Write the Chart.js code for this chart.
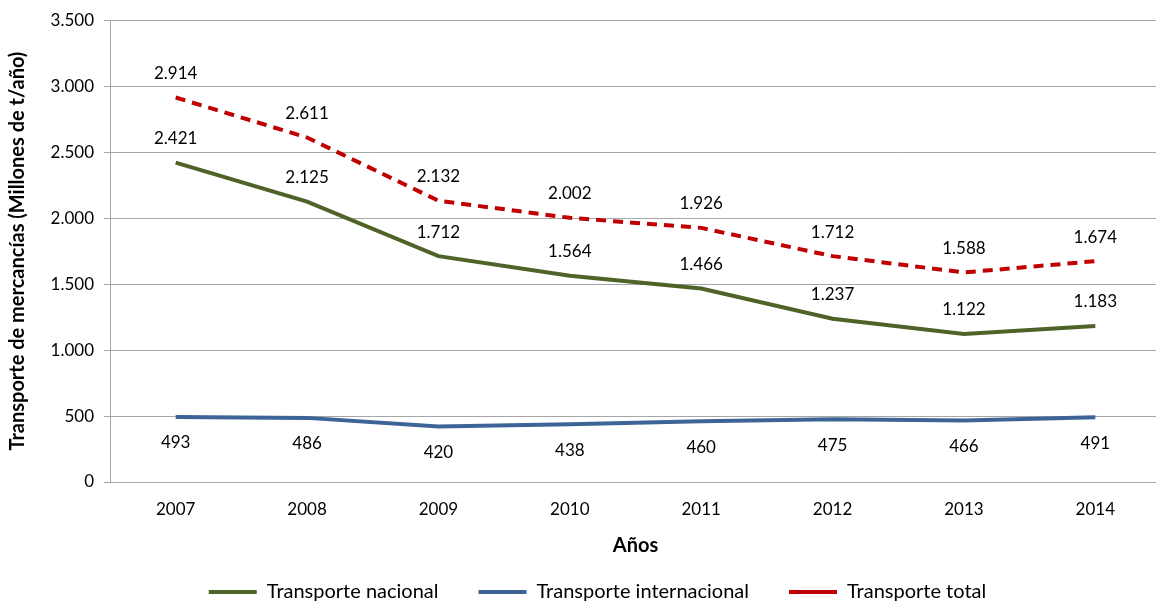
<!DOCTYPE html>
<html>
<head>
<meta charset="utf-8">
<script src="https://cdn.jsdelivr.net/npm/chart.js@4/dist/chart.umd.min.js"></script>
<style>
  html, body { margin: 0; padding: 0; background: #fff; overflow: hidden; }
  #wrap { width: 1161px; height: 612px; position: relative; }
</style>
</head>
<body>
<div id="wrap"><canvas id="chart"></canvas></div>
<script>
const years = ["2007", "2008", "2009", "2010", "2011", "2012", "2013", "2014"];
const nacional = [2421, 2125, 1712, 1564, 1466, 1237, 1122, 1183];
const internacional = [493, 486, 420, 438, 460, 475, 466, 491];
const total = [2914, 2611, 2132, 2002, 1926, 1712, 1588, 1674];

const fontFamily = "Lato, 'Open Sans', sans-serif";

function fmt(v) {
  return String(v).replace(/\B(?=(\d{3})+(?!\d))/g, ".");
}

// etiquetas de valor sobre/bajo cada punto
const pointLabels = {
  id: "pointLabels",
  afterDatasetsDraw(chart) {
    const ctx = chart.ctx;
    ctx.save();
    ctx.font = "17px " + fontFamily;
    ctx.fillStyle = "#000";
    ctx.textAlign = "center";
    ctx.textBaseline = "middle";
    chart.data.datasets.forEach((ds, i) => {
      const meta = chart.getDatasetMeta(i);
      meta.data.forEach((pt, j) => {
        ctx.fillText(fmt(ds.data[j]), pt.x, pt.y + ds.labelOffset);
      });
    });
    ctx.restore();
  }
};

const chartEl = document.getElementById("chart");

const chartInstance = new Chart(chartEl, {
  type: "line",
  data: {
    labels: years,
    datasets: [
      {
        label: "Transporte nacional",
        data: nacional,
        borderColor: "#4F6228",
        backgroundColor: "#4F6228",
        borderWidth: 4,
        pointRadius: 0,
        tension: 0,
        labelOffset: -24,
      },
      {
        label: "Transporte internacional",
        data: internacional,
        borderColor: "#3C6496",
        backgroundColor: "#3C6496",
        borderWidth: 4,
        pointRadius: 0,
        tension: 0,
        labelOffset: 26,
      },
      {
        label: "Transporte total",
        data: total,
        borderColor: "#C00000",
        backgroundColor: "#C00000",
        borderWidth: 4,
        borderDash: [10, 7],
        pointRadius: 0,
        tension: 0,
        labelOffset: -24,
      },
    ],
  },
  options: {
    responsive: true,
    maintainAspectRatio: false,
    animation: false,
    layout: { padding: { left: 34, top: 12, right: 0, bottom: 0 } },
    scales: {
      x: {
        offset: true,
        grid: { display: false, drawTicks: false, offset: true },
        border: { color: "#A6A6A6", width: 1 },
        ticks: {
          color: "#000",
          padding: 17,
          font: { family: fontFamily, size: 17 },
          maxRotation: 0,
        },
        title: {
          display: true,
          text: "Años",
          color: "#000",
          font: { family: fontFamily, size: 20, weight: "bold" },
          padding: { top: 0, bottom: -16 },
        },
        afterFit: (scale) => { scale.height = 60; },
      },
      y: {
        min: 0,
        max: 3500,
        grid: {
          color: "#A6A6A6",
          lineWidth: 1,
          tickLength: 6,
          tickColor: "#A6A6A6",
        },
        border: { color: "#A6A6A6", width: 1 },
        ticks: {
          stepSize: 500,
          color: "#000",
          padding: 10,
          font: { family: fontFamily, size: 17 },
          callback: (v) => fmt(v),
        },
        title: {
          display: true,
          text: "Transporte de mercancías (Millones de t/año)",
          color: "#000",
          font: { family: fontFamily, size: 20, weight: "bold" },
          padding: { top: -28, bottom: 8 },
        },
        afterFit: (scale) => { scale.width = 76; },
      },
    },
    plugins: {
      legend: {
        display: true,
        position: "bottom",
        labels: {
          usePointStyle: true,
          pointStyle: "line",
          pointStyleWidth: 48,
          boxHeight: 4,
          padding: 40,
          color: "#000",
          font: { family: fontFamily, size: 20 },
        },
      },
      tooltip: { enabled: false },
    },
  },
  plugins: [pointLabels],
});
</script>
</body>
</html>
